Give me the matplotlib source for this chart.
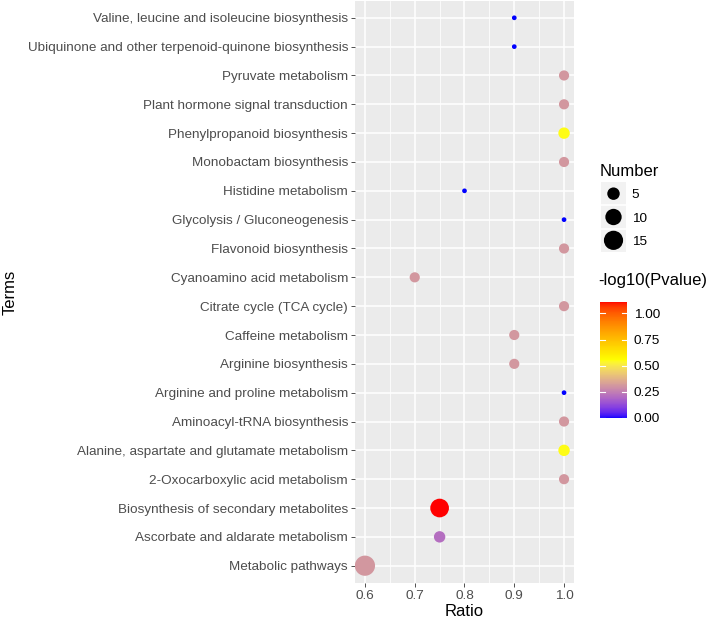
import numpy as np
import matplotlib
matplotlib.use('Agg')
import matplotlib.pyplot as plt
from matplotlib.colors import ListedColormap, Normalize

plt.rcParams['font.family'] = ['Liberation Sans', 'DejaVu Sans']

# data, top row first
terms = [
    'Valine, leucine and isoleucine biosynthesis',
    'Ubiquinone and other terpenoid-quinone biosynthesis',
    'Pyruvate metabolism',
    'Plant hormone signal transduction',
    'Phenylpropanoid biosynthesis',
    'Monobactam biosynthesis',
    'Histidine metabolism',
    'Glycolysis / Gluconeogenesis',
    'Flavonoid biosynthesis',
    'Cyanoamino acid metabolism',
    'Citrate cycle (TCA cycle)',
    'Caffeine metabolism',
    'Arginine biosynthesis',
    'Arginine and proline metabolism',
    'Aminoacyl-tRNA biosynthesis',
    'Alanine, aspartate and glutamate metabolism',
    '2-Oxocarboxylic acid metabolism',
    'Biosynthesis of secondary metabolites',
    'Ascorbate and aldarate metabolism',
    'Metabolic pathways',
]
ratio = [0.9, 0.9, 1.0, 1.0, 1.0, 1.0, 0.8, 1.0, 1.0, 0.7,
         1.0, 0.9, 0.9, 1.0, 1.0, 1.0, 1.0, 0.75, 0.75, 0.6]
number = [1, 1, 3, 3, 4, 3, 1, 1, 3, 3,
          3, 3, 3, 1, 3, 4, 3, 14, 4, 17]
neglogp = [0.0, 0.0, 0.31, 0.31, 0.55, 0.31, 0.0, 0.0, 0.31, 0.31,
           0.31, 0.31, 0.31, 0.0, 0.31, 0.55, 0.31, 1.11, 0.21, 0.31]

size_breaks = [5, 10, 15]
cbar_ticks = [0.0, 0.25, 0.5, 0.75, 1.0]


# ggplot-like Lab colour ramp: blue -> yellow -> red
def srgb_to_lab(rgb):
    rgb = np.asarray(rgb, float)
    lin = np.where(rgb <= 0.04045, rgb / 12.92, ((rgb + 0.055) / 1.055) ** 2.4)
    m = np.array([[0.4124, 0.3576, 0.1805],
                  [0.2126, 0.7152, 0.0722],
                  [0.0193, 0.1192, 0.9505]])
    xyz = m @ lin / np.array([0.95047, 1.0, 1.08883])
    f = np.where(xyz > 0.008856, np.cbrt(xyz), 7.787 * xyz + 16 / 116)
    return np.array([116 * f[1] - 16, 500 * (f[0] - f[1]), 200 * (f[1] - f[2])])


def lab_to_srgb(lab):
    L, a, b = lab
    fy = (L + 16) / 116
    fx = fy + a / 500
    fz = fy - b / 200
    f = np.array([fx, fy, fz])
    xyz = np.where(f ** 3 > 0.008856, f ** 3, (f - 16 / 116) / 7.787)
    xyz = xyz * np.array([0.95047, 1.0, 1.08883])
    m = np.array([[3.2406, -1.5372, -0.4986],
                  [-0.9689, 1.8758, 0.0415],
                  [0.0557, -0.2040, 1.0570]])
    lin = m @ xyz
    rgb = np.where(lin <= 0.0031308, 12.92 * lin, 1.055 * np.clip(lin, 0, None) ** (1 / 2.4) - 0.055)
    return np.clip(rgb, 0, 1)


stops = [srgb_to_lab(c) for c in [(0, 0, 1), (1, 1, 0), (1, 0, 0)]]
ramp = []
for t in np.linspace(0, 1, 256):
    seg = min(int(t * 2), 1)
    u = t * 2 - seg
    ramp.append(lab_to_srgb(stops[seg] * (1 - u) + stops[seg + 1] * u))
cmap = ListedColormap(ramp)
vmin, vmax = min(neglogp), max(neglogp)
norm = Normalize(vmin, vmax)

nmin, nmax = min(number), max(number)


def marker_area(n):
    # ggplot area scale, range 1..6, converted to point area
    sz = 1 + 5 * np.sqrt((np.asarray(n, float) - nmin) / (nmax - nmin))
    d_px = 1.6 + 3.1 * sz
    return (d_px * 0.72) ** 2


fig = plt.figure(figsize=(7.08, 6.2), dpi=100)
ax = fig.add_axes([355 / 708, 37 / 620, 219 / 708, 582.5 / 620])
ax.set_facecolor('#EBEBEB')

ypos = np.arange(len(terms))[::-1]
ax.scatter(ratio, ypos, s=marker_area(number), c=neglogp, cmap=cmap, norm=norm,
           linewidths=0, zorder=3)

ax.set_xlim(0.58, 1.02)
ax.set_ylim(-0.6, len(terms) - 0.4)
ax.set_xticks([0.6, 0.7, 0.8, 0.9, 1.0])
ax.set_xticklabels(['0.6', '0.7', '0.8', '0.9', '1.0'])
ax.set_xticks([0.65, 0.75, 0.85, 0.95], minor=True)
ax.set_yticks(ypos)
ax.set_yticklabels(terms)
ax.grid(True, which='major', color='white', linewidth=1.1, zorder=0)
ax.grid(True, which='minor', axis='x', color='white', linewidth=0.55, zorder=0)
ax.set_axisbelow(True)
for s in ax.spines.values():
    s.set_visible(False)
ax.tick_params(which='major', length=2.75, width=0.6, color='#333333',
               labelcolor='#4D4D4D', labelsize=9.7, pad=2.2)
ax.tick_params(which='minor', length=0)
ax.set_xlabel('Ratio', fontsize=12, labelpad=1.5)
fig.text(10 / 708, 1 - 292 / 620, 'Terms', rotation=90, fontsize=12,
         ha='center', va='center')

# size legend
fig.text(600 / 708, 1 - 172 / 620, 'Number', fontsize=12, ha='left', va='center')
lax = fig.add_axes([601 / 708, 1 - 252 / 620, 25 / 708, 70 / 620])
lax.set_facecolor('#F2F2F2')
ly = np.arange(len(size_breaks))[::-1]
lax.scatter(np.zeros(len(size_breaks)), ly, s=marker_area(size_breaks), c='black',
            linewidths=0)
lax.set_xlim(-0.5, 0.5)
lax.set_ylim(-0.5, len(size_breaks) - 0.5)
for yv in [0.5, 1.5]:
    lax.axhline(yv, color='white', linewidth=1.2)
lax.set_xticks([])
lax.set_yticks(ly)
lax.set_yticklabels([str(b) for b in size_breaks])
lax.yaxis.tick_right()
lax.tick_params(length=0, labelsize=9.7, pad=4)
for s in lax.spines.values():
    s.set_visible(False)

# colour bar
fig.text(598 / 708, 1 - 281 / 620, '-log10(Pvalue)', fontsize=12, ha='left', va='center')
cax = fig.add_axes([600 / 708, 1 - 418 / 620, 27 / 708, 116 / 620])
cb = fig.colorbar(plt.cm.ScalarMappable(norm=norm, cmap=cmap), cax=cax)
cb.outline.set_visible(False)
cb.set_ticks(cbar_ticks)
cb.set_ticklabels(['0.00', '0.25', '0.50', '0.75', '1.00'])
cax.tick_params(length=0, labelsize=9.7, pad=5)
for t in cbar_ticks:
    cax.plot([0, 0.2], [t, t], color='white', linewidth=0.8, transform=cax.get_yaxis_transform())
    cax.plot([0.8, 1.0], [t, t], color='white', linewidth=0.8, transform=cax.get_yaxis_transform())

fig.savefig('out.png', dpi=100)
